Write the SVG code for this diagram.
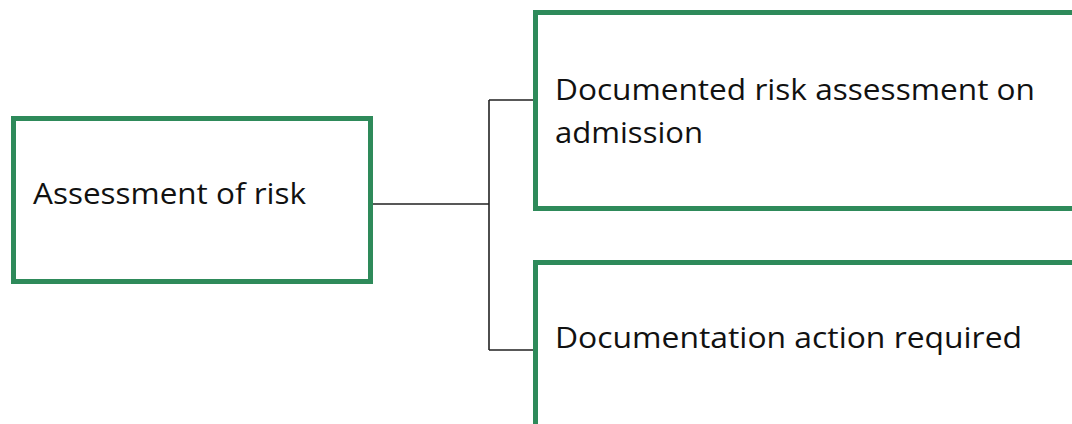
<svg xmlns="http://www.w3.org/2000/svg" width="1072" height="424" viewBox="0 0 1072 424">
<style>
.box{fill:#ffffff;stroke:#2e8a5a;stroke-width:5}
.lbl{font-family:"Open Sans","Liberation Sans",sans-serif;font-size:29px;fill:#111111}
.conn{fill:none;stroke:#222222;stroke-width:1.6}
</style>
<rect width="1072" height="424" fill="#ffffff"/>
<g id="connectors">
<path class="conn" d="M372 204 H489 M489 100 V350 M489 100 H534 M489 350 H534"/>
</g>
<g id="node-assessment">
<rect class="box" x="13.5" y="118.5" width="357" height="163"/>
<text class="lbl" x="33" y="204" textLength="273" lengthAdjust="spacingAndGlyphs">Assessment of risk</text>
</g>
<g id="node-documented">
<rect class="box" x="535.5" y="12.5" width="560" height="196"/>
<text class="lbl" x="555" y="100" textLength="480" lengthAdjust="spacingAndGlyphs">Documented risk assessment on</text>
<text class="lbl" x="555" y="143" textLength="148" lengthAdjust="spacingAndGlyphs">admission</text>
</g>
<g id="node-action">
<rect class="box" x="535.5" y="262.5" width="560" height="200"/>
<text class="lbl" x="555" y="348" textLength="467" lengthAdjust="spacingAndGlyphs">Documentation action required</text>
</g>
</svg>
